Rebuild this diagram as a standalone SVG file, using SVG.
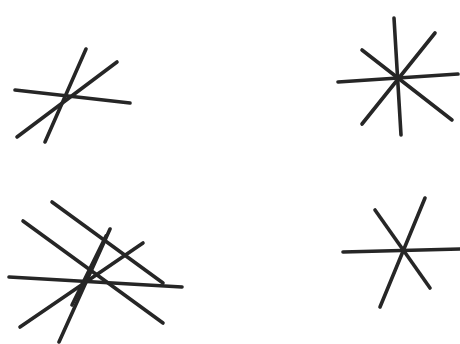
<svg xmlns="http://www.w3.org/2000/svg" width="460" height="344" viewBox="0 0 460 344">
<style>
line{stroke:#262626;stroke-width:3.6;stroke-linecap:round}
</style>
<rect width="460" height="344" fill="#fff"/>
<g id="star-top-left">
<line x1="15" y1="90" x2="130" y2="103"/>
<line x1="86" y1="49" x2="45" y2="142"/>
<line x1="117" y1="62" x2="17" y2="137"/>
</g>
<g id="star-top-right">
<line x1="394" y1="18" x2="401" y2="135"/>
<line x1="338" y1="82" x2="458" y2="74"/>
<line x1="362" y1="50" x2="452" y2="120"/>
<line x1="435" y1="33" x2="362" y2="124"/>
</g>
<g id="star-bottom-left">
<line x1="52" y1="202" x2="163" y2="283"/>
<line x1="23" y1="221" x2="163" y2="323"/>
<line x1="9" y1="277" x2="182" y2="287"/>
<line x1="110" y1="229" x2="59" y2="342"/>
<line x1="106" y1="236" x2="72" y2="305"/>
<line x1="143" y1="243" x2="20" y2="327"/>
</g>
<g id="star-bottom-right">
<line x1="343" y1="252" x2="460" y2="249"/>
<line x1="375" y1="210" x2="430" y2="288"/>
<line x1="425" y1="198" x2="380" y2="307"/>
</g>
</svg>
